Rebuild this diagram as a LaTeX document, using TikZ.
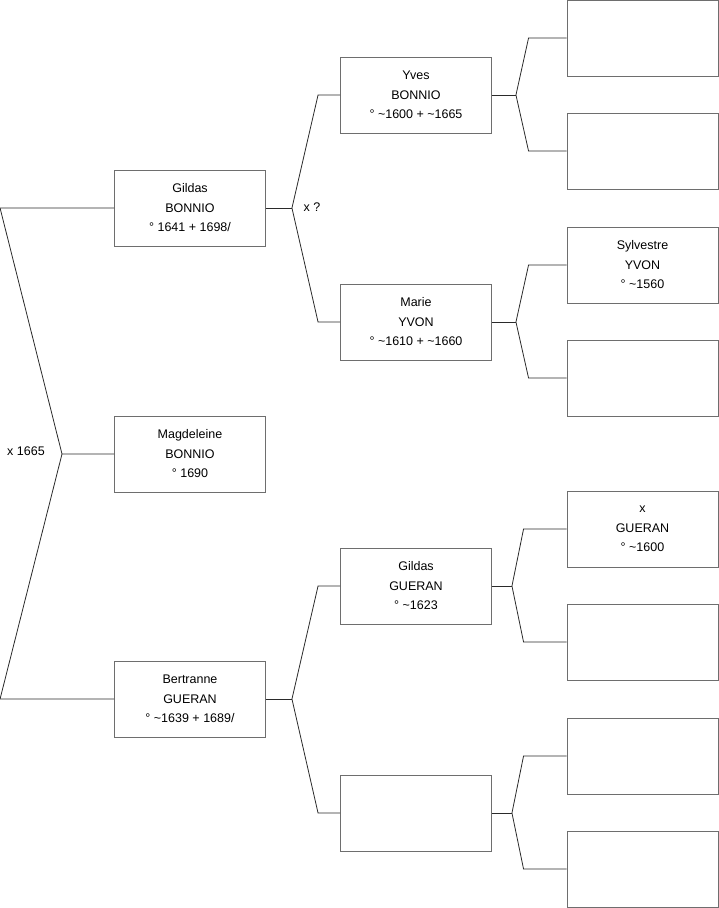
\documentclass[tikz,border=0pt]{standalone}
\usepackage{fontspec}
\setmainfont{Liberation Sans}
\usepackage{tikz}
\usetikzlibrary{positioning,calc}
\definecolor{boxline}{HTML}{6E6E6E}
\definecolor{treeline}{HTML}{2A2A2A}
\tikzset{
  person/.style={draw=boxline,line width=0.9pt,fill=white,align=center,
    minimum width=151pt,minimum height=76pt,inner sep=0pt,
    font=\fontsize{12.5}{19.5}\selectfont},
  link/.style={draw=treeline,line width=0.8pt},
  unionlabel/.style={font=\fontsize{12.5}{15}\selectfont,inner sep=0pt}
}
\begin{document}
\begin{tikzpicture}[x=1pt,y=-1pt]
  \useasboundingbox (0,0) rectangle (719,908);
  % generation 1
  \node[person] (gildas) at (190,208) {Gildas\\BONNIO\\° 1641 + 1698/};
  \node[person] (magdeleine) at (190,454) {Magdeleine\\BONNIO\\° 1690};
  \node[person] (bertranne) at (190,699) {Bertranne\\GUERAN\\° \textasciitilde1639 + 1689/};
  % generation 2
  \node[person] (yves) at (416,95) {Yves\\BONNIO\\° \textasciitilde1600 + \textasciitilde1665};
  \node[person] (marie) at (416,322) {Marie\\YVON\\° \textasciitilde1610 + \textasciitilde1660};
  \node[person] (gildasg) at (416,586) {Gildas\\GUERAN\\° \textasciitilde1623};
  \node[person] (mereb) at (416,813) {};
  % generation 3
  \node[person] (peresy) at (642.5,38) {};
  \node[person] (meresy) at (642.5,151) {};
  \node[person] (sylvestre) at (642.5,265) {Sylvestre\\YVON\\° \textasciitilde1560};
  \node[person] (meresm) at (642.5,378) {};
  \node[person] (xgueran) at (642.5,529) {x\\GUERAN\\° \textasciitilde1600};
  \node[person] (meresg) at (642.5,642) {};
  \node[person] (peresb) at (642.5,756) {};
  \node[person] (meresb) at (642.5,869) {};

  % siblings
  \coordinate (fam) at (62,454);
  \draw[link] (gildas.west) -- ++(-114,0) -- (fam) -- (magdeleine.west);
  \draw[link] (fam) -- ($(bertranne.west)+(-114,0)$) -- (bertranne.west);
  \node[unionlabel] (mariage) at (26,451) {x 1665};

  % parents
  \draw[link] (gildas.east) -- ++(26,0) coordinate (jg);
  \draw[link] (yves.west) -- ++(-22,0) -- (jg) -- ($(marie.west)+(-22,0)$) -- (marie.west);
  \node[unionlabel] (mariageg) at (312,207) {x ?};
  \draw[link] (bertranne.east) -- ++(26,0) coordinate (jb);
  \draw[link] (gildasg.west) -- ++(-22,0) -- (jb) -- ($(mereb.west)+(-22,0)$) -- (mereb.west);

  % grandparents
  \draw[link] (yves.east) -- ++(24,0) coordinate (jy);
  \draw[link] (peresy.west) -- ++(-38,0) -- (jy) -- ($(meresy.west)+(-38,0)$) -- (meresy.west);
  \draw[link] (marie.east) -- ++(24,0) coordinate (jm);
  \draw[link] (sylvestre.west) -- ++(-38,0) -- (jm) -- ($(meresm.west)+(-38,0)$) -- (meresm.west);
  \draw[link] (gildasg.east) -- ++(20,0) coordinate (jgg);
  \draw[link] (xgueran.west) -- ++(-43,0) -- (jgg) -- ($(meresg.west)+(-43,0)$) -- (meresg.west);
  \draw[link] (mereb.east) -- ++(20,0) coordinate (jmb);
  \draw[link] (peresb.west) -- ++(-43,0) -- (jmb) -- ($(meresb.west)+(-43,0)$) -- (meresb.west);
\end{tikzpicture}
\end{document}
